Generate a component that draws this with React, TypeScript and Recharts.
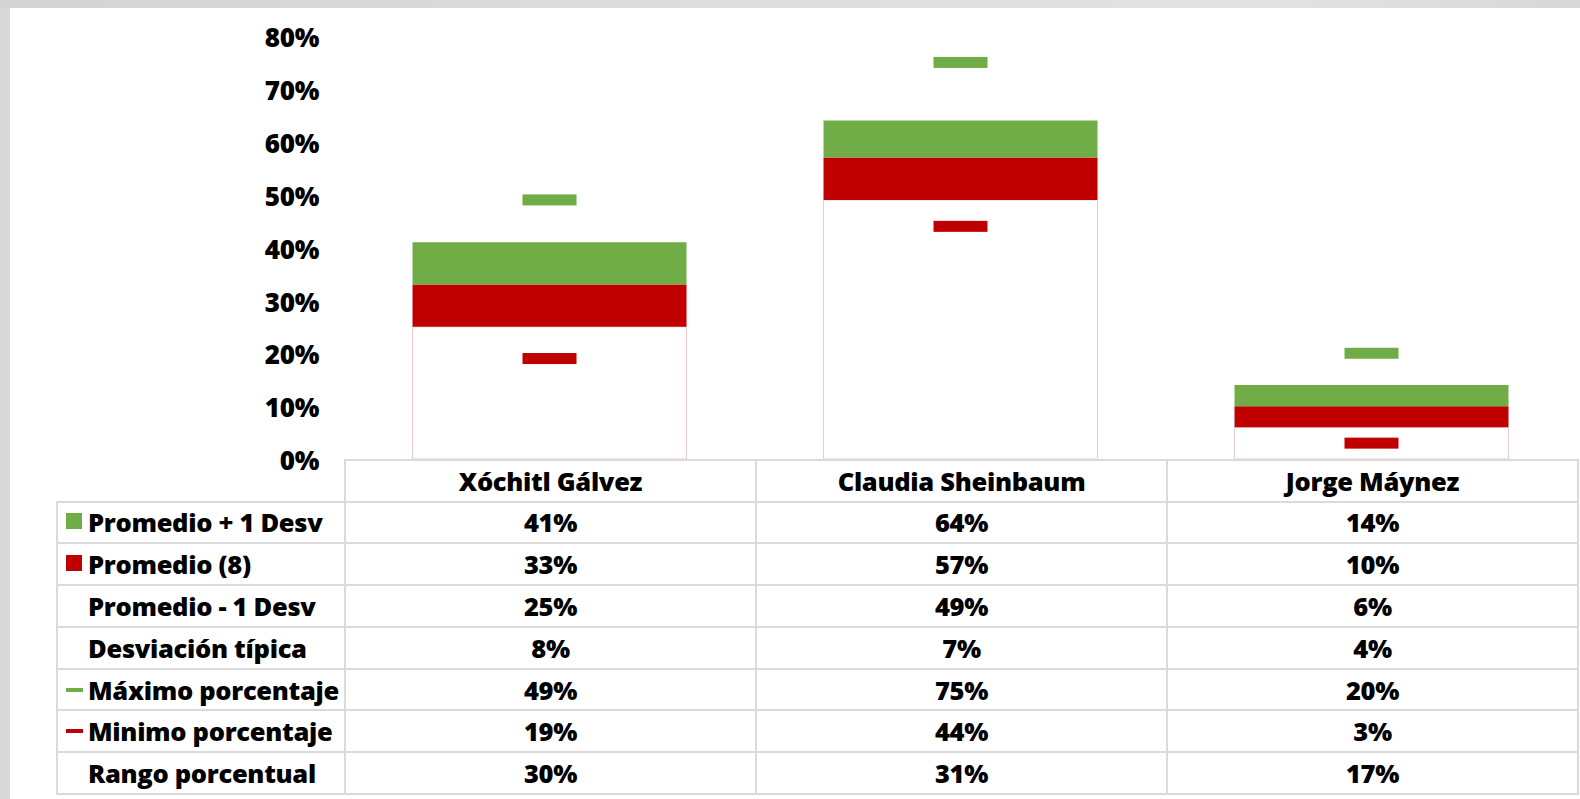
import React from 'react';
import { ComposedChart, Bar, Line, XAxis, YAxis } from 'recharts';

const categories = ['Xóchitl Gálvez', 'Claudia Sheinbaum', 'Jorge Máynez'];
const promedioMas = [0.41, 0.64, 0.14];
const promedio = [0.33, 0.57, 0.1];
const promedioMenos = [0.25, 0.49, 0.06];
const desviacion = [0.08, 0.07, 0.04];
const maximo = [0.49, 0.75, 0.2];
const minimo = [0.19, 0.44, 0.03];
const rango = [0.3, 0.31, 0.17];
const yTicks = [0, 0.1, 0.2, 0.3, 0.4, 0.5, 0.6, 0.7, 0.8];

const GREEN = '#70AD47';
const RED = '#C00000';
const FONT = '"Open Sans", Lato, sans-serif';
const BORDER = '2px solid #dadada';

const data = categories.map((name, i) => ({
  name,
  base: promedioMenos[i],
  redSeg: +(promedio[i] - promedioMenos[i]).toFixed(4),
  greenSeg: +(promedioMas[i] - promedio[i]).toFixed(4),
  maximo: maximo[i],
  minimo: minimo[i],
}));

const pct = (v: number) => `${Math.round(v * 100)}%`;

const tableRows = [
  { label: 'Promedio + 1 Desv', values: promedioMas, icon: 'square', color: GREEN },
  { label: 'Promedio (8)', values: promedio, icon: 'square', color: RED },
  { label: 'Promedio - 1 Desv', values: promedioMenos, icon: null, color: '' },
  { label: 'Desviación típica', values: desviacion, icon: null, color: '' },
  { label: 'Máximo porcentaje', values: maximo, icon: 'line', color: GREEN },
  { label: 'Minimo porcentaje', values: minimo, icon: 'line', color: RED },
  { label: 'Rango porcentual', values: rango, icon: null, color: '' },
];

const makeMarker = (color: string) => (props: any) => {
  const { cx, cy, index } = props;
  if (cx == null || cy == null) return <g key={index} />;
  return <rect key={index} x={cx - 27} y={cy - 5.5} width={54} height={11} fill={color} />;
};

const cellText: React.CSSProperties = {
  fontFamily: FONT,
  fontWeight: 800,
  fontSize: 25.5,
  color: '#000',
  letterSpacing: -0.3,
};

export default function App() {
  return (
    <div style={{ position: 'absolute', left: 0, top: 0, width: 1580, height: 799, background: '#d9d9d9', overflow: 'hidden' }}>
      <div style={{ position: 'absolute', left: 0, top: 0, width: 1580, height: 8, background: 'linear-gradient(90deg,#d4d4d4,#dcdcdc 40%,#e2e2e2 80%,#d8d8d8)' }} />
      <div style={{ position: 'absolute', left: 10, top: 8, width: 1570, height: 791, background: '#fff' }} />
      <div style={{ position: 'absolute', left: 0, top: 0 }}>
        <ComposedChart
          width={1580}
          height={799}
          data={data}
          margin={{ top: 36, right: 3, bottom: 340, left: 0 }}
          barCategoryGap="16.67%"
        >
          <XAxis dataKey="name" hide />
          <YAxis
            type="number"
            domain={[0, 0.8]}
            ticks={yTicks}
            tickFormatter={pct}
            axisLine={false}
            tickLine={false}
            tickSize={0}
            tickMargin={25}
            width={344}
            tick={{ fontSize: 26, fontWeight: 800, fill: '#000', fontFamily: FONT, dy: 2, letterSpacing: -0.3 }}
            interval={0}
          />
          <Bar dataKey="base" stackId="a" fill="#ffffff" stroke="#e8cdc8" strokeWidth={1} isAnimationActive={false} />
          <Bar dataKey="redSeg" stackId="a" fill={RED} isAnimationActive={false} />
          <Bar dataKey="greenSeg" stackId="a" fill={GREEN} isAnimationActive={false} />
          <Line dataKey="maximo" stroke="none" dot={makeMarker(GREEN)} activeDot={false} isAnimationActive={false} />
          <Line dataKey="minimo" stroke="none" dot={makeMarker(RED)} activeDot={false} isAnimationActive={false} />
        </ComposedChart>
      </div>
      <table
        style={{
          position: 'absolute',
          left: 56,
          top: 459,
          borderCollapse: 'collapse',
          tableLayout: 'fixed',
          width: 1521,
        }}
      >
        <colgroup>
          <col style={{ width: 288 }} />
          <col style={{ width: 411 }} />
          <col style={{ width: 411 }} />
          <col style={{ width: 411 }} />
        </colgroup>
        <tbody>
          <tr style={{ height: 41.5 }}>
            <td style={{ border: 'none', padding: 0 }} />
            {categories.map((c) => (
              <td key={c} style={{ ...cellText, border: BORDER, textAlign: 'center', padding: 0, lineHeight: '38px' }}>{c}</td>
            ))}
          </tr>
          {tableRows.map((r) => (
            <tr key={r.label} style={{ height: 41.8 }}>
              <td style={{ ...cellText, border: BORDER, padding: 0, position: 'relative', whiteSpace: 'nowrap', overflow: 'visible', lineHeight: '38px' }}>
                {r.icon === 'square' && (
                  <span style={{ position: 'absolute', left: 8, top: 'calc(50% - 9px)', width: 16, height: 16, background: r.color }} />
                )}
                {r.icon === 'line' && (
                  <span style={{ position: 'absolute', left: 8, top: 'calc(50% - 2px)', width: 17, height: 4, background: r.color }} />
                )}
                <span style={{ paddingLeft: 30 }}>{r.label}</span>
              </td>
              {r.values.map((v, i) => (
                <td key={i} style={{ ...cellText, border: BORDER, textAlign: 'center', padding: 0, lineHeight: '38px' }}>{pct(v)}</td>
              ))}
            </tr>
          ))}
        </tbody>
      </table>
    </div>
  );
}
